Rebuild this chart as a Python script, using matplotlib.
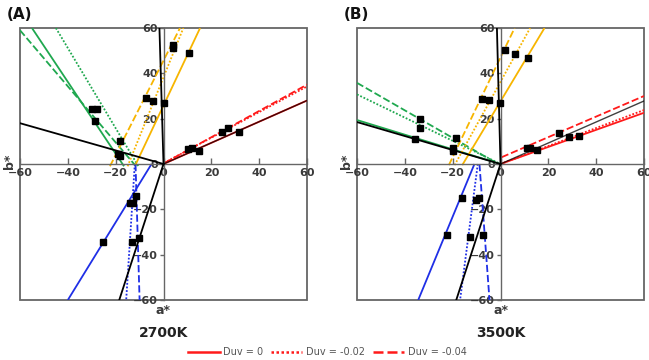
import matplotlib
matplotlib.use("Agg")
import matplotlib.pyplot as plt
from matplotlib.patches import Rectangle
from matplotlib.lines import Line2D

# ---------------- data ----------------
# Each series: [start, end] for a*, and [start, end] for b*; order Duv = 0, -0.02, -0.04
duv_labels = ["Duv = 0", "Duv = -0.02", "Duv = -0.04"]

# Panel A (2700K)
A_green_a = [[-55, -16.5], [-45, -10.5], [-60, -11.5]]
A_green_b = [[60, -1], [60, -1], [59, -1]]
A_orange_a = [[-12, 15.3], [-15, 8.3], [-22.4, 6.9]]
A_orange_b = [[-1, 60], [-1, 60], [-1, 60]]
A_blue_a = [[-5, -40], [-12, -15.6], [-11.7, -10]]
A_blue_b = [[0, -60], [0, -60], [0, -60]]
A_red_a = [[0, 60], [0.3, 60], [0.5, 60]]
A_red_b = [[0, 28], [0.5, 34.2], [0.5, 35]]
A_black_a = [[-60, 0], [-1.7, 0], [0, -18.5], [0, 60]]
A_black_b = [[18, 0], [60, 0], [0, -60], [0, 28]]
A_pts_a = [-29.8, -27.9, -28.7, -18.2, -18.9, -18.2, -7.3, -4.5, 0.2, 3.8, 3.8, 10.7,
           10.4, 12.0, 14.9, 24.4, 27.1, 31.7,
           -11.4, -14.2, -12.8, -25.1, -13.3, -10.3]
A_pts_b = [24.1, 24.4, 18.9, 10.3, 4.3, 3.5, 28.9, 28.0, 26.7, 52.7, 51.0, 49.0,
           6.5, 7.2, 5.7, 14.2, 15.7, 14.1,
           -14.1, -17.0, -17.0, -34.4, -34.4, -32.7]

# Panel B (3500K)
B_green_a = [[-60, 0], [-60, 0], [-60, -1]]
B_green_b = [[19.4, 0], [30.7, 0], [35.8, 0]]
B_orange_a = [[-16, 18.4], [-19.2, 12.4], [-21.6, 5.9]]
B_orange_b = [[-0.5, 60], [-0.5, 60], [-0.5, 60]]
B_blue_a = [[-10.9, -34.4], [-9.5, -16.9], [-8.8, -4.6]]
B_blue_b = [[0, -60], [0, -60], [0, -60]]
B_red_a = [[0, 60], [0, 60], [0.5, 60]]
B_red_b = [[0, 22.6], [0, 23.8], [3, 30]]
B_black_a = [[-60, 0], [-1.5, 0], [0, -18.5], [0, 60]]
B_black_b = [[18.5, 0], [60, 0], [0, -60], [0, 27.8]]
B_pts_a = [1.7, 6.0, 11.4, -7.8, -5.0, -0.3, -33.5, -33.5, -35.6, -18.8, -19.9, -19.9,
           11.0, 12.4, 15.2, 24.4, 28.6, 32.8,
           -16.0, -10.2, -8.8, -22.5, -12.7, -7.4]
B_pts_b = [50.1, 48.6, 46.6, 28.8, 28.1, 26.7, 19.7, 16.0, 10.9, 11.6, 7.2, 5.7,
           7.2, 7.2, 6.2, 13.5, 12.0, 12.3,
           -15.1, -15.9, -14.8, -31.3, -32.2, -31.3]

ticks = [-60, -40, -20, 0, 20, 40, 60]
titles = ["2700K", "3500K"]
panel_tags = ["(A)", "(B)"]

# ---------------- styling ----------------
GREEN = "#1fa84f"
ORANGE = "#f7b500"
BLUE = "#1f2fe6"
RED = "#ff1a1a"
styles = ["-", (0, (1, 1)), (0, (4, 1.6))]
TICKCOL = "#3a3a3a"
FRAMECOL = "#666666"

fig = plt.figure(figsize=(6.49, 3.60), dpi=100)
axA = fig.add_axes([20 / 649, 60 / 360, 287 / 649, 272 / 360])
axB = fig.add_axes([357 / 649, 60 / 360, 287 / 649, 272 / 360])

panels = [
    (axA, [(A_green_a, A_green_b, GREEN), (A_orange_a, A_orange_b, ORANGE),
           (A_blue_a, A_blue_b, BLUE), (A_red_a, A_red_b, RED)],
     A_black_a, A_black_b, A_pts_a, A_pts_b),
    (axB, [(B_green_a, B_green_b, GREEN), (B_orange_a, B_orange_b, ORANGE),
           (B_blue_a, B_blue_b, BLUE), (B_red_a, B_red_b, RED)],
     B_black_a, B_black_b, B_pts_a, B_pts_b),
]

for i, (ax, groups, blk_a, blk_b, pa, pb) in enumerate(panels):
    ax.set_xlim(-60, 60)
    ax.set_ylim(-60, 60)
    for s in ["top", "right"]:
        ax.spines[s].set_visible(False)
    ax.spines["left"].set_position("zero")
    ax.spines["bottom"].set_position("zero")
    ax.spines["left"].set_color(FRAMECOL)
    ax.spines["bottom"].set_color(FRAMECOL)
    ax.spines["left"].set_linewidth(1.0)
    ax.spines["bottom"].set_linewidth(1.0)
    ax.add_patch(Rectangle((0, 0), 1, 1, transform=ax.transAxes, fill=False,
                           edgecolor=FRAMECOL, lw=1.3, zorder=0.5, clip_on=False))
    ax.set_xticks(ticks)
    ax.set_yticks(ticks)
    ax.tick_params(axis="x", direction="in", length=4, width=1, color=FRAMECOL,
                   labelsize=8, labelcolor=TICKCOL, pad=3)
    ax.tick_params(axis="y", direction="out", length=3, width=1, color=FRAMECOL,
                   labelsize=8, labelcolor=TICKCOL, pad=1)
    for lab in ax.get_xticklabels() + ax.get_yticklabels():
        lab.set_fontweight("bold")

    for (ga, gb, col) in groups:
        for k in range(3):
            ax.plot(ga[k], gb[k], color=col, lw=1.3, linestyle=styles[k],
                    solid_capstyle="butt", zorder=2)
    for k in range(len(blk_a)):
        ax.plot(blk_a[k], blk_b[k], color="black", lw=1.3 if k < 3 else 1.0,
                alpha=1.0 if k < 3 else 0.75, zorder=3)
    ax.plot(pa, pb, linestyle="none", marker="s", markersize=5, color="black", zorder=4)

    ax.text(0.5, -0.037, "a*", transform=ax.transAxes, ha="center", va="center",
            fontsize=9, fontweight="bold", color=TICKCOL)
    ax.text(0.5, -0.12, titles[i], transform=ax.transAxes, ha="center", va="center",
            fontsize=10, fontweight="bold", color="#222222")
    ax.text(-0.035, 0.51, "b*", transform=ax.transAxes, ha="center", va="center",
            rotation=90, fontsize=9, fontweight="bold", color=TICKCOL)
    ax.text(-0.045, 1.05, panel_tags[i], transform=ax.transAxes, ha="left", va="center",
            fontsize=11, fontweight="bold", color="#111111")

handles = [Line2D([0], [0], color=RED, lw=1.8, linestyle=styles[k]) for k in range(3)]
fig.legend(handles, duv_labels, loc="center", bbox_to_anchor=(0.505, 0.022), ncol=3,
           frameon=False, fontsize=7, labelcolor="#555555", handlelength=3.2,
           columnspacing=0.8, handletextpad=0.4)

fig.savefig("out.png", dpi=100)
